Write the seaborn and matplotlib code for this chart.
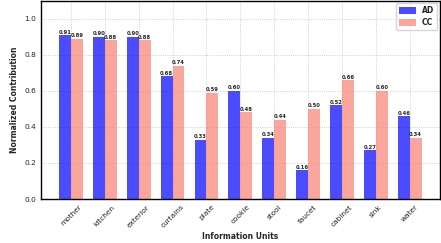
import pandas as pd
import matplotlib
matplotlib.use("Agg")
import matplotlib.pyplot as plt
import seaborn as sns

# values
units = ['mother', 'kitchen', 'exterior', 'curtains', 'plate', 'cookie',
         'stool', 'faucet', 'cabinet', 'sink', 'water']
ad_values = [0.91, 0.90, 0.90, 0.68, 0.33, 0.60, 0.34, 0.16, 0.52, 0.27, 0.46]
cc_values = [0.89, 0.88, 0.88, 0.74, 0.59, 0.48, 0.44, 0.50, 0.66, 0.60, 0.34]

df = pd.DataFrame({
    'unit': units * 2,
    'value': ad_values + cc_values,
    'group': ['AD'] * len(units) + ['CC'] * len(units),
})

sns.set_style("white")
plt.rcParams['font.family'] = ['DejaVu Sans']

fig, ax = plt.subplots(figsize=(4.41, 2.43), dpi=100)
fig.subplots_adjust(left=0.093, right=0.997, top=0.997, bottom=0.181)

sns.barplot(data=df, x='unit', y='value', hue='group', order=units,
            palette={'AD': 'blue', 'CC': 'salmon'}, alpha=0.7,
            width=0.7, gap=0, ax=ax, errorbar=None, saturation=1,
            linewidth=0, edgecolor='none')

# value labels above each bar
for cont in ax.containers:
    ax.bar_label(cont, fmt='%.2f', fontsize=3.8, fontweight='bold', padding=0.3)

ax.set_xlim(-0.885, 10.885)
ax.set_ylim(0, 1.1)
ax.set_xlabel('Information Units', fontsize=5.5, fontweight='bold', labelpad=2)
ax.set_ylabel('Normalized Contribution', fontsize=5.5, fontweight='bold')
ax.tick_params(axis='both', labelsize=5.3, length=2, width=0.6, pad=1.5)
ax.tick_params(axis='x', labelrotation=45)
ax.set_yticks([0.0, 0.2, 0.4, 0.6, 0.8, 1.0])

ax.grid(True, linestyle=':', color='gray', alpha=0.5, linewidth=0.6)
ax.set_axisbelow(True)
for sp in ax.spines.values():
    sp.set_color('black')
    sp.set_linewidth(1.0)

leg = ax.legend(loc='upper right', prop={'weight': 'bold', 'size': 5.5},
                handlelength=2.2, handleheight=0.9, borderpad=0.4,
                labelspacing=0.4, borderaxespad=0.3)
leg.set_title(None)

fig.savefig('out.png', dpi=100)
